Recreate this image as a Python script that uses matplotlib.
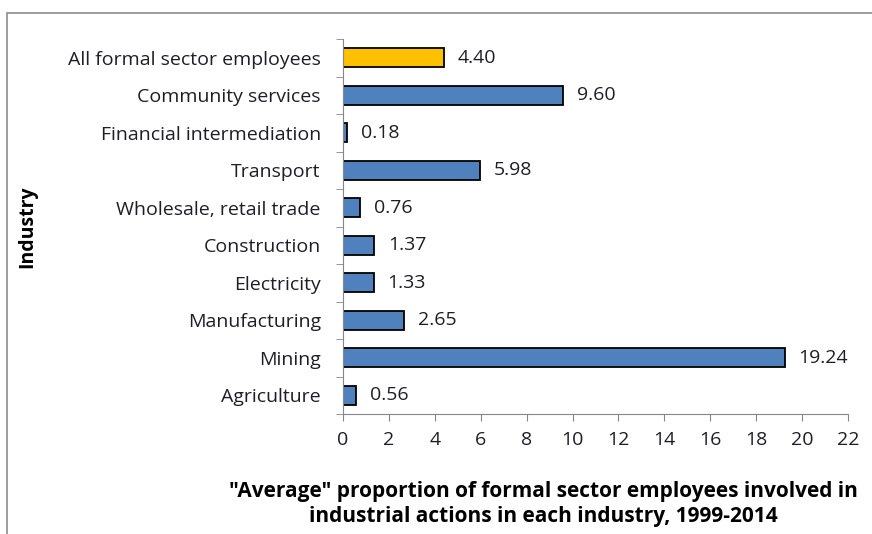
import matplotlib.pyplot as plt
from matplotlib.patches import Rectangle
import numpy as np

industries = ['Agriculture', 'Mining', 'Manufacturing', 'Electricity', 'Construction',
              'Wholesale, retail trade', 'Transport', 'Financial intermediation',
              'Community services', 'All formal sector employees']
values = [0.56, 19.24, 2.65, 1.33, 1.37, 0.76, 5.98, 0.18, 9.60, 4.40]
colors = ['#4F81BD'] * 9 + ['#FFC000']
xticks = list(range(0, 23, 2))

plt.rcParams['font.family'] = ['Open Sans', 'DejaVu Sans']
FS = 14
TXT = '#1e1e28'

fig = plt.figure(figsize=(8.72, 5.34), dpi=100)
ax = fig.add_axes([343 / 872, 1 - 414 / 534, 505 / 872, 375 / 534])

# outer chart border (only the top and left edges are in view)
fig.patches.append(Rectangle((7 / 872, -0.1), 1.2, 1 - 13 / 534 + 0.1,
                             transform=fig.transFigure, fill=False,
                             edgecolor='#8c8c8c', linewidth=1.2))

y = np.arange(len(industries))
ax.barh(y, values, height=0.5, color=colors, edgecolor='black', linewidth=1.3)

for yi, v in zip(y, values):
    ax.text(v + 0.6, yi, f'{v:.2f}', va='center', ha='left', fontsize=FS, color=TXT)

ax.set_xlim(0, 22)
ax.set_ylim(-0.5, len(industries) - 0.5)
ax.set_xticks(xticks)
ax.set_xticklabels([str(t) for t in xticks], fontsize=FS, color=TXT)
ax.set_yticks(y)
ax.set_yticklabels(industries, fontsize=FS, color=TXT)
ax.tick_params(axis='y', length=0, pad=16)
ax.set_yticks(np.arange(-0.5, len(industries)), minor=True)
ax.tick_params(axis='y', which='minor', length=5, color='#868686')
ax.tick_params(axis='x', length=5, color='#868686', pad=7)

for s in ['top', 'right']:
    ax.spines[s].set_visible(False)
ax.spines['left'].set_color('#868686')
ax.spines['bottom'].set_color('#868686')

fig.text(543 / 872, 1 - 504 / 534, '"Average" proportion of formal sector employees involved in\n'
         'industrial actions in each industry, 1999-2014',
         ha='center', va='center', fontsize=15, fontweight='bold', color='black',
         linespacing=1.3)
fig.text(27 / 872, 1 - 227 / 534, 'Industry', rotation=90, ha='center', va='center',
         fontsize=FS, fontweight='bold', color='black')

fig.savefig('out.png', dpi=100)
